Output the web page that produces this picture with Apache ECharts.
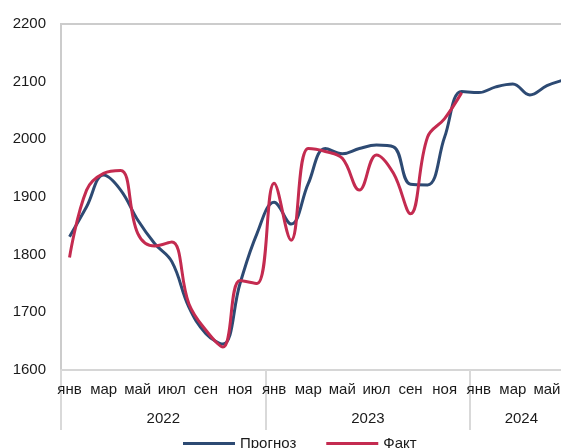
<!DOCTYPE html>
<html>
<head>
<meta charset="utf-8">
<script src="https://cdn.jsdelivr.net/npm/echarts@6/dist/echarts.min.js"></script>
<style>
html,body{margin:0;padding:0;background:#fff;}
#chart{width:561px;height:448px;}
</style>
</head>
<body>
<div id="chart"></div>
<script>
// Month categories (Jan 2022 – Jun 2024)
const months = ['янв','фев','мар','апр','май','июн','июл','авг','сен','окт','ноя','дек',
                'янв','фев','мар','апр','май','июн','июл','авг','сен','окт','ноя','дек',
                'янв','фев','мар','апр','май','июн'];
// Year groups
const years = ['2022','2023','2024'];
const yearMonths = [12, 12, 6];
// Series values
const forecast = [1831,1883,1938,1912,1860,1819,1788,1709,1663,1645,1750,1837,
                  1891,1853,1923,1984,1975,1984,1990,1987,1922,1921,2004,2083,
                  2081,2091,2096,2077,2093,2103];
const fact = [1795,1912,1941,1946,1837,1815,1822,1715,1669,1640,1755,1750,
              1924,1825,1984,1979,1967,1912,1973,1941,1871,2004,2036,2081];
// Y axis ticks
const yMin = 1600, yMax = 2200, yStep = 100;

// year label positions (centre of each group, in month units)
const yearCentres = {};
let acc = 0;
years.forEach((y, i) => { yearCentres[acc + yearMonths[i] / 2] = y; acc += yearMonths[i]; });
const boundaries = [];
acc = 0;
yearMonths.forEach(n => { boundaries.push(acc); acc += n; });
const totalMonths = acc;

const font = 'Liberation Sans, Arial, sans-serif';
const textColor = '#1a1a1a';
const chart = echarts.init(document.getElementById('chart'));
chart.setOption({
  animation: false,
  backgroundColor: '#ffffff',
  grid: {
    left: 61, top: 24, height: 346, width: 511.5,
    containLabel: false, outerBoundsMode: 'none',
    show: true, borderColor: '#cccccc', borderWidth: 2, backgroundColor: 'transparent'
  },
  legend: {
    data: ['Прогноз', 'Факт'],
    left: 178, top: 431,
    icon: 'rect', itemWidth: 52, itemHeight: 3, itemGap: 30,
    textStyle: { fontFamily: font, fontSize: 15, color: textColor }
  },
  xAxis: [
    {
      type: 'category',
      data: months,
      boundaryGap: true,
      axisLine: { show: true, lineStyle: { color: '#d6d6d6', width: 2 } },
      axisTick: {
        show: true, length: 60,
        interval: (idx) => boundaries.indexOf(idx) >= 0,
        lineStyle: { color: '#d9d9d9', width: 2 }
      },
      axisLabel: {
        interval: 1, margin: 12,
        fontFamily: font, fontSize: 15, color: textColor
      },
      splitLine: { show: false }
    },
    {
      type: 'value',
      min: 0, max: totalMonths, interval: 3,
      position: 'bottom',
      axisLine: { show: false },
      axisTick: { show: false },
      splitLine: { show: false },
      axisLabel: {
        margin: 41, fontFamily: font, fontSize: 15, color: textColor,
        showMinLabel: true, showMaxLabel: true,
        formatter: (v) => yearCentres[v] || ''
      }
    }
  ],
  yAxis: {
    type: 'value',
    min: yMin, max: yMax, interval: yStep,
    axisLine: { show: true, lineStyle: { color: '#cccccc', width: 2 } },
    axisTick: { show: false },
    splitLine: { show: false },
    axisLabel: { margin: 15, fontFamily: font, fontSize: 15, color: textColor,
                 formatter: (v) => String(v) }
  },
  series: [
    {
      name: 'Прогноз', type: 'line', data: forecast,
      xAxisIndex: 0, yAxisIndex: 0,
      smooth: 0.4, symbol: 'none',
      lineStyle: { color: '#2D4A73', width: 3 },
      itemStyle: { color: '#2D4A73' }
    },
    {
      name: 'Факт', type: 'line', data: fact,
      xAxisIndex: 0, yAxisIndex: 0,
      smooth: 0.4, symbol: 'none',
      lineStyle: { color: '#C42B50', width: 3 },
      itemStyle: { color: '#C42B50' }
    }
  ]
});
</script>
</body>
</html>
